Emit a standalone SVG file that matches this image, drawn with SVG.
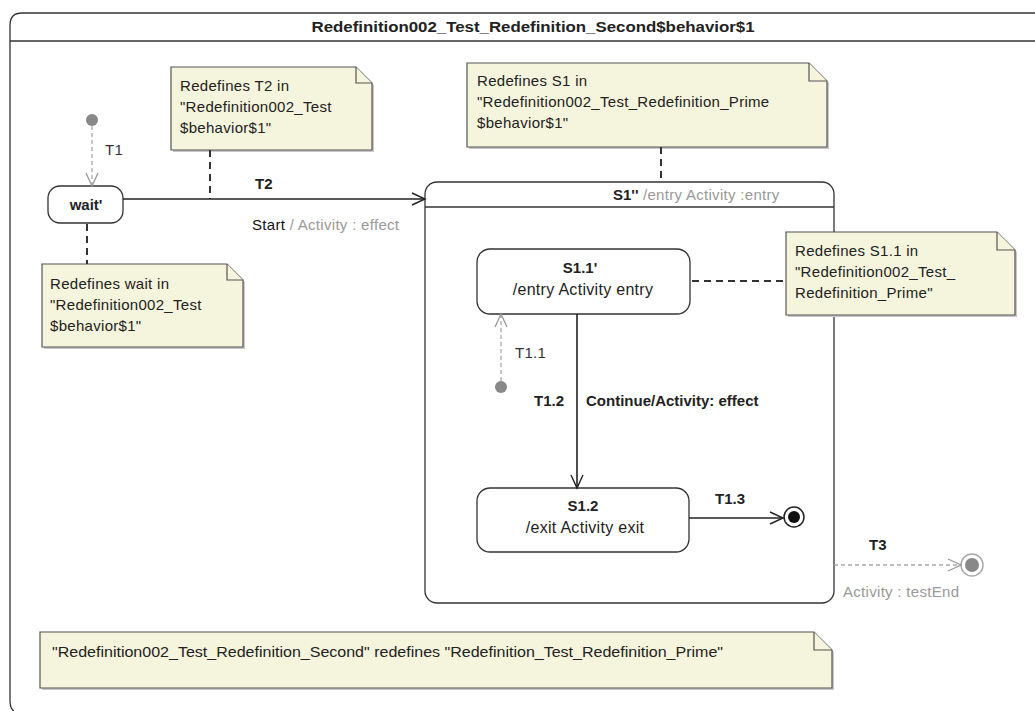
<svg xmlns="http://www.w3.org/2000/svg" width="1035" height="711" viewBox="0 0 1035 711">
<style>
text{font-family:"Liberation Sans",Arial,sans-serif;font-size:15px;letter-spacing:0.3px;fill:#222}
.b{font-weight:bold;letter-spacing:0}
.s{font-size:16px}
.g{fill:#999}
.note{fill:#f5f4dc;stroke:#555;stroke-width:1.2}
.sh{fill:#c8c8c8;stroke:none}
.fold{fill:#f5f4dc;stroke:#555;stroke-width:1.2}
.st{fill:#fff;stroke:#333;stroke-width:1.3}
.link{stroke:#333;stroke-width:2;stroke-dasharray:7,5;fill:none}
.tr{stroke:#222;stroke-width:1.6;fill:none}
.gtr{stroke:#aaa;stroke-width:1.3;stroke-dasharray:4,3;fill:none}
</style>
<defs>
<marker id="ah" markerWidth="16" markerHeight="14" refX="14" refY="7" orient="auto" markerUnits="userSpaceOnUse">
<path d="M1,1 L14,7 L1,13" fill="none" stroke="#222" stroke-width="1.4"/>
</marker>
<marker id="gah" markerWidth="16" markerHeight="14" refX="14" refY="7" orient="auto" markerUnits="userSpaceOnUse">
<path d="M1,1 L14,7 L1,13" fill="none" stroke="#999" stroke-width="1.3"/>
</marker>
</defs>
<rect width="1035" height="711" fill="#fff"/>
<g id="frame">
<path d="M1040,13 L22,13 Q10,13 10,25 L10,700 Q10,709 14,711" fill="none" stroke="#333" stroke-width="1.3"/>
<line x1="10" y1="41" x2="1040" y2="41" stroke="#333" stroke-width="1.3"/>
<text x="533" y="32" text-anchor="middle" class="b" style="font-size:14px" textLength="443" lengthAdjust="spacingAndGlyphs">Redefinition002_Test_Redefinition_Second$behavior$1</text>
</g>
<g id="init1"><circle cx="92" cy="120" r="6" fill="#888"/></g>
<g id="wait">
<rect x="48" y="186" width="75" height="37" rx="12" class="st"/>
<text x="86" y="210" text-anchor="middle" class="b">wait'</text>
</g>
<g id="noteT2">
<path d="M173,69 L358,69 L374,85 L374,152 L173,152 Z" class="sh"/>
<path d="M171,67 L356,67 L372,83 L372,150 L171,150 Z" class="note"/>
<path d="M356,67 L356,83 L372,83" class="fold"/>
<text x="180" y="91">Redefines T2 in</text>
<text x="180" y="112">"Redefinition002_Test</text>
<text x="180" y="133">$behavior$1"</text>
</g>
<g id="noteWait">
<path d="M44,266 L229,266 L245,282 L245,349 L44,349 Z" class="sh"/>
<path d="M42,264 L227,264 L243,280 L243,347 L42,347 Z" class="note"/>
<path d="M227,264 L227,280 L243,280" class="fold"/>
<text x="50" y="289">Redefines wait in</text>
<text x="50" y="310">"Redefinition002_Test</text>
<text x="50" y="331">$behavior$1"</text>
</g>
<g id="noteS1">
<path d="M469,65 L811,65 L829,83 L829,149 L469,149 Z" class="sh"/>
<path d="M467,63 L809,63 L827,81 L827,147 L467,147 Z" class="note"/>
<path d="M809,63 L809,81 L827,81" class="fold"/>
<text x="477" y="86">Redefines S1 in</text>
<text x="477" y="107">"Redefinition002_Test_Redefinition_Prime</text>
<text x="477" y="128">$behavior$1"</text>
</g>
<g id="S1">
<rect x="425" y="182" width="409" height="421" rx="12" class="st"/>
<line x1="425" y1="207" x2="834" y2="207" stroke="#333" stroke-width="1.3"/>
<text x="613" y="200"><tspan class="b">S1''</tspan><tspan class="g"> /entry Activity :entry</tspan></text>
</g>
<g id="noteS11">
<path d="M788,234 L999,234 L1017,252 L1017,317 L788,317 Z" class="sh"/>
<path d="M786,232 L997,232 L1015,250 L1015,315 L786,315 Z" class="note"/>
<path d="M997,232 L997,250 L1015,250" class="fold"/>
<text x="795" y="256">Redefines S1.1 in</text>
<text x="795" y="277">"Redefinition002_Test_</text>
<text x="795" y="298">Redefinition_Prime"</text>
</g>
<g id="S11">
<rect x="477" y="249" width="213" height="65" rx="13" class="st"/>
<text x="580" y="273" text-anchor="middle" class="b">S1.1'</text>
<text x="583" y="295" text-anchor="middle" class="s">/entry Activity entry</text>
</g>
<g id="init2"><circle cx="501" cy="387" r="6" fill="#888"/></g>
<g id="S12">
<rect x="477" y="488" width="212" height="64" rx="13" class="st"/>
<text x="583" y="511" text-anchor="middle" class="b">S1.2</text>
<text x="585" y="533" text-anchor="middle" class="s">/exit Activity exit</text>
</g>
<g id="final1">
<circle cx="794" cy="517" r="10" fill="#fff" stroke="#222" stroke-width="1.5"/>
<circle cx="794" cy="517" r="6" fill="#111"/>
</g>
<g id="final2">
<circle cx="972" cy="565" r="11" fill="#fff" stroke="#aaa" stroke-width="1.5"/>
<circle cx="972" cy="565" r="7" fill="#888"/>
</g>
<g id="noteBottom">
<path d="M42,634 L816,634 L834,652 L834,690 L42,690 Z" class="sh"/>
<path d="M40,632 L814,632 L832,650 L832,688 L40,688 Z" class="note"/>
<path d="M814,632 L814,650 L832,650" class="fold"/>
<text x="52" y="657" style="font-size:14px;letter-spacing:0" textLength="671" lengthAdjust="spacingAndGlyphs">"Redefinition002_Test_Redefinition_Second" redefines "Redefinition_Test_Redefinition_Prime"</text>
</g>
<g id="connectors">
<line x1="210" y1="150" x2="210" y2="199" class="link"/>
<line x1="87" y1="224" x2="87" y2="264" class="link"/>
<line x1="661" y1="147" x2="661" y2="182" class="link"/>
<line x1="692" y1="281" x2="786" y2="281" class="link"/>
<line x1="92" y1="126" x2="92" y2="186" class="gtr" marker-end="url(#gah)"/>
<line x1="123" y1="199" x2="425" y2="199" class="tr" marker-end="url(#ah)"/>
<line x1="501" y1="381" x2="501" y2="314" class="gtr" marker-end="url(#gah)"/>
<line x1="577" y1="314" x2="577" y2="488" class="tr" marker-end="url(#ah)"/>
<line x1="689" y1="518" x2="783" y2="518" class="tr" marker-end="url(#ah)"/>
<line x1="834" y1="565" x2="961" y2="565" class="gtr" marker-end="url(#gah)"/>
<text x="105" y="155" style="fill:#333">T1</text>
<text x="255" y="189" class="b">T2</text>
<text x="252" y="230"><tspan style="fill:#111">Start</tspan><tspan class="g"> / Activity : effect</tspan></text>
<text x="515" y="358" style="fill:#333">T1.1</text>
<text x="534" y="406" class="b">T1.2</text>
<text x="586" y="406" class="b">Continue/Activity: effect</text>
<text x="715" y="504" class="b">T1.3</text>
<text x="869" y="550" class="b">T3</text>
<text x="843" y="597" class="g">Activity : testEnd</text>
</g>
</svg>
